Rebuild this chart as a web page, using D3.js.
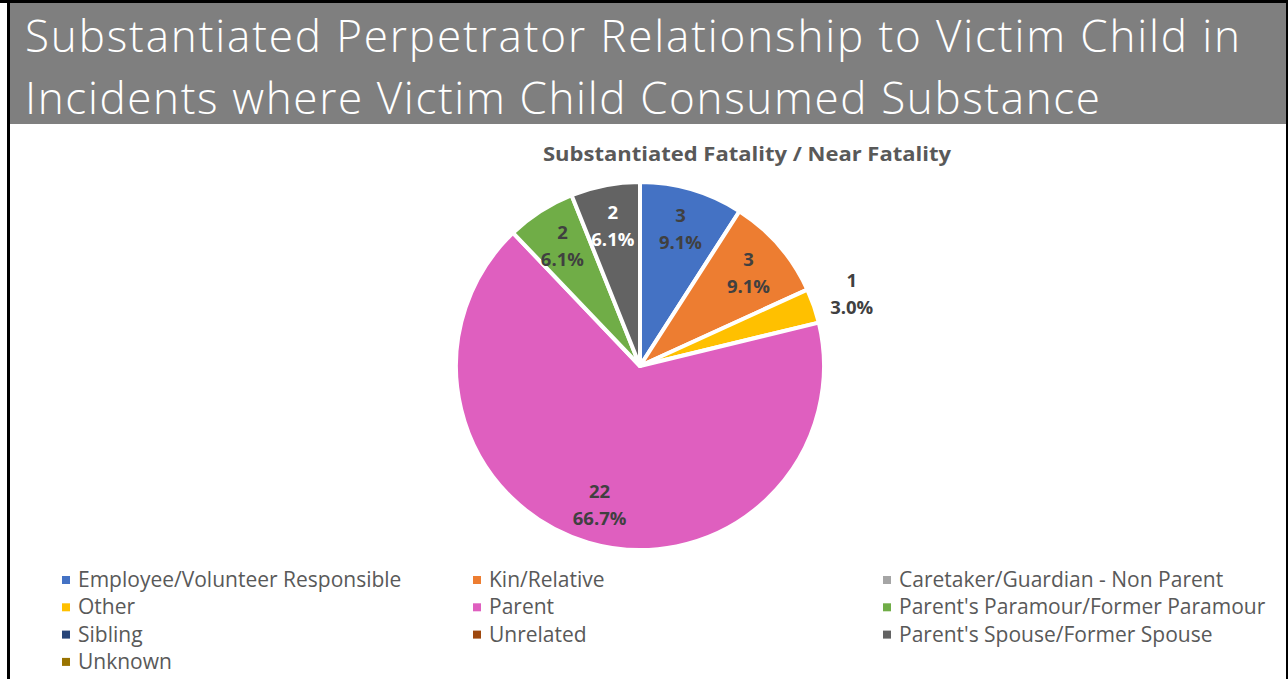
<!DOCTYPE html>
<html>
<head>
<meta charset="utf-8">
<script src="https://cdn.jsdelivr.net/npm/d3@7"></script>
<style>
  body { margin: 0; background: #fff; }
  svg { display: block; }
  text { font-family: "Open Sans", "Noto Sans", sans-serif; }
</style>
</head>
<body>
<div id="chart"></div>
<script>
// data
var titleLines = ["Substantiated Perpetrator Relationship to Victim Child in",
                  "Incidents where Victim Child Consumed Substance"];
var chartTitle = "Substantiated Fatality / Near Fatality";
var categories = ["Employee/Volunteer Responsible", "Kin/Relative", "Caretaker/Guardian - Non Parent",
                  "Other", "Parent", "Parent's Paramour/Former Paramour",
                  "Sibling", "Unrelated", "Parent's Spouse/Former Spouse",
                  "Unknown"];
var counts = [3, 3, 0, 1, 22, 2, 0, 0, 2, 0];
var colors = ["#4472C4", "#ED7D31", "#A5A5A5", "#FFC000", "#DF5FBF", "#70AD47",
              "#264478", "#9E480E", "#636363", "#997300"];

var W = 1288, H = 679;

var svg = d3.select("#chart").append("svg")
    .attr("width", W)
    .attr("height", H);

// frame + title bar
svg.append("rect").attr("x", 0).attr("y", 0).attr("width", W).attr("height", 3).attr("fill", "#000");
svg.append("rect").attr("x", 7).attr("y", 0).attr("width", 3).attr("height", H).attr("fill", "#000");
svg.append("rect").attr("x", 1286).attr("y", 0).attr("width", 2).attr("height", H).attr("fill", "#000");
svg.append("rect").attr("x", 10).attr("y", 3).attr("width", 1276).attr("height", 121).attr("fill", "#7F7F7F");

svg.selectAll(".ttl")
    .data(titleLines)
    .enter().append("text")
    .attr("class", "ttl")
    .attr("x", 25)
    .attr("y", function (d, i) { return 52 + i * 62; })
    .attr("fill", "#fff")
    .attr("font-size", 44)
    .attr("font-weight", 300)
    .attr("textLength", function (d, i) { return i == 0 ? 1215 : 1075; })
    .attr("lengthAdjust", "spacing")
    .text(function (d) { return d; });

svg.append("text")
    .attr("x", 747)
    .attr("y", 161)
    .attr("text-anchor", "middle")
    .attr("font-size", 20)
    .attr("font-weight", "bold")
    .attr("fill", "#595959")
    .attr("textLength", 408)
    .attr("lengthAdjust", "spacingAndGlyphs")
    .text(chartTitle);

// pie
var cx = 640, cy = 366, radius = 184;
var total = d3.sum(counts);

var data = categories.map(function (c, i) {
    return { name: c, value: counts[i], color: colors[i] };
});

var pie = d3.pie().sort(null).value(function (d) { return d.value; });
var arcs = pie(data);

var arc = d3.arc().innerRadius(0).outerRadius(radius);
var labelIn = d3.arc().innerRadius(radius * 0.78).outerRadius(radius * 0.78);
var labelOut = d3.arc().innerRadius(radius + 40).outerRadius(radius + 40);

var g = svg.append("g").attr("transform", "translate(" + cx + "," + cy + ")");

g.selectAll(".slice")
    .data(arcs.filter(function (d) { return d.data.value > 0; }))
    .enter().append("path")
    .attr("class", "slice")
    .attr("d", arc)
    .attr("fill", function (d) { return d.data.color; })
    .attr("stroke", "#fff")
    .attr("stroke-width", 4)
    .attr("stroke-linejoin", "round");

var pct = d3.format(".1%");

var lab = g.selectAll(".lab")
    .data(arcs.filter(function (d) { return d.data.value > 0; }))
    .enter().append("text")
    .attr("class", "lab")
    .attr("text-anchor", "middle")
    .attr("font-size", 18.5)
    .attr("font-weight", "bold")
    .attr("fill", function (d) { return d.data.color == "#636363" ? "#fff" : "#404040"; })
    .attr("transform", function (d) {
        var p = (d.data.value / total < 0.05) ? labelOut.centroid(d) : labelIn.centroid(d);
        return "translate(" + p[0] + "," + p[1] + ")";
    });

lab.append("tspan")
    .attr("x", 0)
    .attr("y", -6)
    .text(function (d) { return d.data.value; });
lab.append("tspan")
    .attr("x", 0)
    .attr("y", 21)
    .text(function (d) { return pct(d.data.value / total); });

// legend
var colX = [62, 473, 883];
var rowY = 580, rowH = 27.3;

var leg = svg.selectAll(".leg")
    .data(data)
    .enter().append("g")
    .attr("class", "leg")
    .attr("transform", function (d, i) {
        return "translate(" + colX[i % 3] + "," + (rowY + Math.floor(i / 3) * rowH) + ")";
    });

leg.append("rect")
    .attr("x", 0)
    .attr("y", -4)
    .attr("width", 8)
    .attr("height", 8)
    .attr("fill", function (d) { return d.color; });

leg.append("text")
    .attr("x", 16)
    .attr("y", 7)
    .attr("font-size", 21)
    .attr("fill", "#595959")
    .text(function (d) { return d.name; });
</script>
</body>
</html>
